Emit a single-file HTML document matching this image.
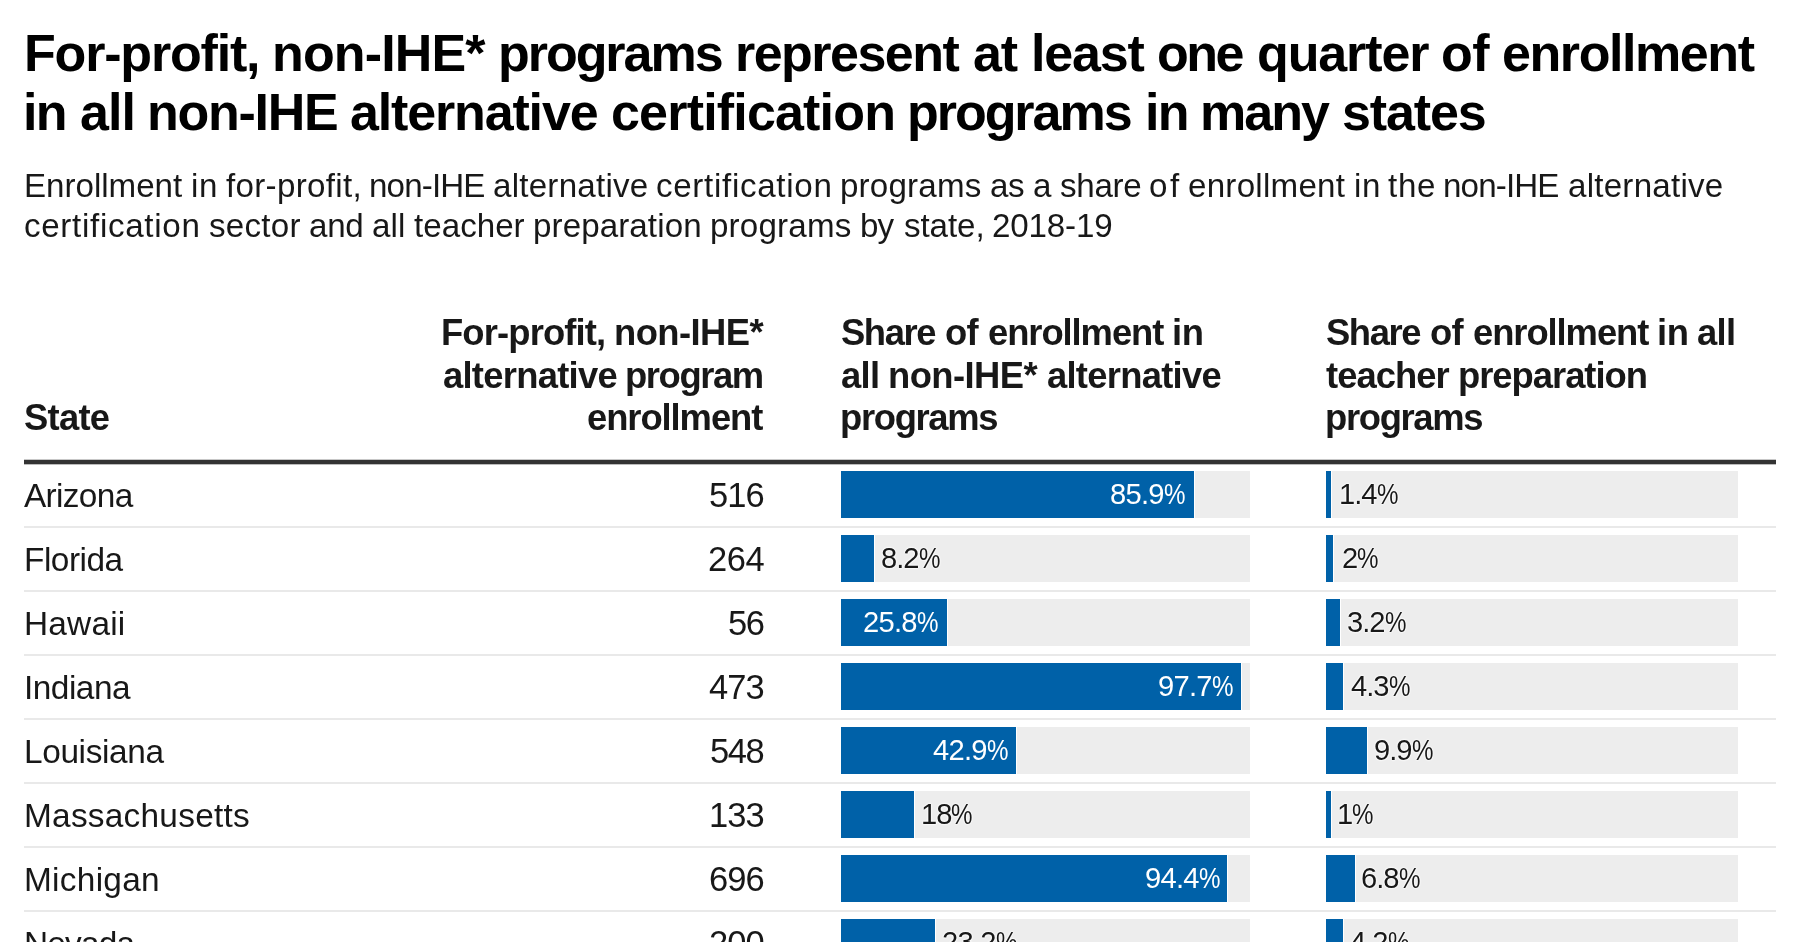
<!DOCTYPE html>
<html><head><meta charset="utf-8"><title>For-profit, non-IHE* programs</title>
<style>
html,body{margin:0;padding:0;background:#fff;}
body{width:1800px;height:942px;overflow:hidden;position:relative;font-family:"Liberation Sans",Arial,sans-serif;}
.t{position:absolute;white-space:nowrap;will-change:transform;}
.out{text-shadow:0 0 2px #fff,0 0 2px #fff,0 0 2px #fff;}
.bg{position:absolute;height:47px;background:#ededed;}
.bar{position:absolute;height:47px;background:#0061a8;box-shadow:1px 0 0 #fff;}
.sep{position:absolute;left:24px;width:1752px;height:2px;background:#e9e9e9;}
.rule{position:absolute;left:24px;width:1752px;top:460px;height:4px;background:#333;box-shadow:0 -1px 0 rgba(30,30,30,0.25),0 1px 0 rgba(30,30,30,0.3);}
.pc{display:inline-block;transform:scaleX(0.83);transform-origin:0 0;margin-right:-4.2px;}
</style></head><body>
<div class="rule"></div>
<div class="bg" style="left:841px;top:471px;width:409px"></div>
<div class="bar" style="left:841px;top:471px;width:352.8px"></div>
<div class="bg" style="left:1326px;top:471px;width:412px"></div>
<div class="bar" style="left:1326px;top:471px;width:5.0px"></div>
<div class="sep" style="top:526px"></div>
<div class="bg" style="left:841px;top:535px;width:409px"></div>
<div class="bar" style="left:841px;top:535px;width:32.9px"></div>
<div class="bg" style="left:1326px;top:535px;width:412px"></div>
<div class="bar" style="left:1326px;top:535px;width:7.2px"></div>
<div class="sep" style="top:590px"></div>
<div class="bg" style="left:841px;top:599px;width:409px"></div>
<div class="bar" style="left:841px;top:599px;width:106.0px"></div>
<div class="bg" style="left:1326px;top:599px;width:412px"></div>
<div class="bar" style="left:1326px;top:599px;width:14.4px"></div>
<div class="sep" style="top:654px"></div>
<div class="bg" style="left:841px;top:663px;width:409px"></div>
<div class="bar" style="left:841px;top:663px;width:400.0px"></div>
<div class="bg" style="left:1326px;top:663px;width:412px"></div>
<div class="bar" style="left:1326px;top:663px;width:16.7px"></div>
<div class="sep" style="top:718px"></div>
<div class="bg" style="left:841px;top:727px;width:409px"></div>
<div class="bar" style="left:841px;top:727px;width:174.9px"></div>
<div class="bg" style="left:1326px;top:727px;width:412px"></div>
<div class="bar" style="left:1326px;top:727px;width:40.5px"></div>
<div class="sep" style="top:782px"></div>
<div class="bg" style="left:841px;top:791px;width:409px"></div>
<div class="bar" style="left:841px;top:791px;width:73.1px"></div>
<div class="bg" style="left:1326px;top:791px;width:412px"></div>
<div class="bar" style="left:1326px;top:791px;width:5.0px"></div>
<div class="sep" style="top:846px"></div>
<div class="bg" style="left:841px;top:855px;width:409px"></div>
<div class="bar" style="left:841px;top:855px;width:385.9px"></div>
<div class="bg" style="left:1326px;top:855px;width:412px"></div>
<div class="bar" style="left:1326px;top:855px;width:28.9px"></div>
<div class="sep" style="top:910px"></div>
<div class="bg" style="left:841px;top:919px;width:409px"></div>
<div class="bar" style="left:841px;top:919px;width:94.4px"></div>
<div class="bg" style="left:1326px;top:919px;width:412px"></div>
<div class="bar" style="left:1326px;top:919px;width:16.9px"></div>
<div class="sep" style="top:974px"></div>
<div class="t" style="left:24.00px;top:26.97px;font-size:52.00px;line-height:52.00px;font-weight:700;letter-spacing:-1.186px;color:#000">For-profit,</div>
<div class="t" style="left:271.78px;top:26.97px;font-size:52.00px;line-height:52.00px;font-weight:700;letter-spacing:-0.854px;color:#000">non-IHE*</div>
<div class="t" style="left:497.62px;top:26.97px;font-size:52.00px;line-height:52.00px;font-weight:700;letter-spacing:-2.040px;color:#000">programs</div>
<div class="t" style="left:734.89px;top:26.97px;font-size:52.00px;line-height:52.00px;font-weight:700;letter-spacing:-1.525px;color:#000">represent</div>
<div class="t" style="left:972.89px;top:26.97px;font-size:52.00px;line-height:52.00px;font-weight:700;letter-spacing:-1.092px;color:#000">at</div>
<div class="t" style="left:1031.23px;top:26.97px;font-size:52.00px;line-height:52.00px;font-weight:700;letter-spacing:-1.206px;color:#000">least</div>
<div class="t" style="left:1157.14px;top:26.97px;font-size:52.00px;line-height:52.00px;font-weight:700;letter-spacing:-2.514px;color:#000">one</div>
<div class="t" style="left:1256.66px;top:26.97px;font-size:52.00px;line-height:52.00px;font-weight:700;letter-spacing:-1.109px;color:#000">quarter</div>
<div class="t" style="left:1440.89px;top:26.97px;font-size:52.00px;line-height:52.00px;font-weight:700;letter-spacing:-0.412px;color:#000">of</div>
<div class="t" style="left:1501.77px;top:26.97px;font-size:52.00px;line-height:52.00px;font-weight:700;letter-spacing:-1.429px;color:#000">enrollment</div>
<div class="t" style="left:23.00px;top:85.97px;font-size:52.00px;line-height:52.00px;font-weight:700;letter-spacing:-1.686px;color:#000">in</div>
<div class="t" style="left:79.83px;top:85.97px;font-size:52.00px;line-height:52.00px;font-weight:700;letter-spacing:-0.889px;color:#000">all</div>
<div class="t" style="left:147.11px;top:85.97px;font-size:52.00px;line-height:52.00px;font-weight:700;letter-spacing:-1.257px;color:#000">non-IHE</div>
<div class="t" style="left:350.34px;top:85.97px;font-size:52.00px;line-height:52.00px;font-weight:700;letter-spacing:-1.156px;color:#000">alternative</div>
<div class="t" style="left:610.98px;top:85.97px;font-size:52.00px;line-height:52.00px;font-weight:700;letter-spacing:-0.815px;color:#000">certification</div>
<div class="t" style="left:907.25px;top:85.97px;font-size:52.00px;line-height:52.00px;font-weight:700;letter-spacing:-2.040px;color:#000">programs</div>
<div class="t" style="left:1144.52px;top:85.97px;font-size:52.00px;line-height:52.00px;font-weight:700;letter-spacing:-1.686px;color:#000">in</div>
<div class="t" style="left:1200.36px;top:85.97px;font-size:52.00px;line-height:52.00px;font-weight:700;letter-spacing:-1.967px;color:#000">many</div>
<div class="t" style="left:1342.47px;top:85.97px;font-size:52.00px;line-height:52.00px;font-weight:700;letter-spacing:-1.116px;color:#000">states</div>
<div class="t" style="left:24.00px;top:168.53px;font-size:33.15px;line-height:33.15px;font-weight:400;letter-spacing:-0.022px;color:#181818">Enrollment</div>
<div class="t" style="left:191.05px;top:168.53px;font-size:33.15px;line-height:33.15px;font-weight:400;letter-spacing:0.696px;color:#181818">in</div>
<div class="t" style="left:225.64px;top:168.53px;font-size:33.15px;line-height:33.15px;font-weight:400;letter-spacing:0.305px;color:#181818">for-profit,</div>
<div class="t" style="left:368.81px;top:168.53px;font-size:33.15px;line-height:33.15px;font-weight:400;letter-spacing:-0.859px;color:#181818">non-IHE</div>
<div class="t" style="left:493.19px;top:168.53px;font-size:33.15px;line-height:33.15px;font-weight:400;letter-spacing:0.233px;color:#181818">alternative</div>
<div class="t" style="left:655.78px;top:168.53px;font-size:33.15px;line-height:33.15px;font-weight:400;letter-spacing:0.685px;color:#181818">certification</div>
<div class="t" style="left:839.70px;top:168.53px;font-size:33.15px;line-height:33.15px;font-weight:400;letter-spacing:0.185px;color:#181818">programs</div>
<div class="t" style="left:989.73px;top:168.53px;font-size:33.15px;line-height:33.15px;font-weight:400;letter-spacing:-0.405px;color:#181818">as</div>
<div class="t" style="left:1033.08px;top:168.53px;font-size:33.15px;line-height:33.15px;font-weight:400;letter-spacing:0.000px;color:#181818">a</div>
<div class="t" style="left:1060.33px;top:168.53px;font-size:33.15px;line-height:33.15px;font-weight:400;letter-spacing:-0.290px;color:#181818">share</div>
<div class="t" style="left:1149.44px;top:168.53px;font-size:33.15px;line-height:33.15px;font-weight:400;letter-spacing:2.469px;color:#181818">of</div>
<div class="t" style="left:1188.08px;top:168.53px;font-size:33.15px;line-height:33.15px;font-weight:400;letter-spacing:0.246px;color:#181818">enrollment</div>
<div class="t" style="left:1353.88px;top:168.53px;font-size:33.15px;line-height:33.15px;font-weight:400;letter-spacing:0.696px;color:#181818">in</div>
<div class="t" style="left:1388.45px;top:168.53px;font-size:33.15px;line-height:33.15px;font-weight:400;letter-spacing:0.728px;color:#181818">the</div>
<div class="t" style="left:1443.34px;top:168.53px;font-size:33.15px;line-height:33.15px;font-weight:400;letter-spacing:-0.859px;color:#181818">non-IHE</div>
<div class="t" style="left:1567.72px;top:168.53px;font-size:33.15px;line-height:33.15px;font-weight:400;letter-spacing:0.233px;color:#181818">alternative</div>
<div class="t" style="left:24.00px;top:208.53px;font-size:33.15px;line-height:33.15px;font-weight:400;letter-spacing:0.685px;color:#181818">certification</div>
<div class="t" style="left:208.92px;top:208.53px;font-size:33.15px;line-height:33.15px;font-weight:400;letter-spacing:0.247px;color:#181818">sector</div>
<div class="t" style="left:308.81px;top:208.53px;font-size:33.15px;line-height:33.15px;font-weight:400;letter-spacing:-0.267px;color:#181818">and</div>
<div class="t" style="left:372.05px;top:208.53px;font-size:33.15px;line-height:33.15px;font-weight:400;letter-spacing:0.146px;color:#181818">all</div>
<div class="t" style="left:414.42px;top:208.53px;font-size:33.15px;line-height:33.15px;font-weight:400;letter-spacing:0.019px;color:#181818">teacher</div>
<div class="t" style="left:533.48px;top:208.53px;font-size:33.15px;line-height:33.15px;font-weight:400;letter-spacing:0.092px;color:#181818">preparation</div>
<div class="t" style="left:710.16px;top:208.53px;font-size:33.15px;line-height:33.15px;font-weight:400;letter-spacing:0.185px;color:#181818">programs</div>
<div class="t" style="left:860.17px;top:208.53px;font-size:33.15px;line-height:33.15px;font-weight:400;letter-spacing:-1.000px;color:#181818">by</div>
<div class="t" style="left:903.52px;top:208.53px;font-size:33.15px;line-height:33.15px;font-weight:400;letter-spacing:-0.092px;color:#181818">state,</div>
<div class="t" style="left:991.64px;top:208.53px;font-size:33.15px;line-height:33.15px;font-weight:400;letter-spacing:-0.151px;color:#181818">2018-19</div>
<div class="t" style="left:24.00px;top:399.98px;font-size:36.40px;line-height:36.40px;font-weight:700;letter-spacing:-0.750px;color:#181818">State</div>
<div class="t" style="left:440.88px;top:314.88px;font-size:36.40px;line-height:36.40px;font-weight:700;letter-spacing:-0.860px;color:#181818">For-profit,</div>
<div class="t" style="left:613.97px;top:314.88px;font-size:36.40px;line-height:36.40px;font-weight:700;letter-spacing:-0.569px;color:#181818">non-IHE*</div>
<div class="t" style="left:442.58px;top:358.43px;font-size:36.40px;line-height:36.40px;font-weight:700;letter-spacing:-0.739px;color:#181818">alternative</div>
<div class="t" style="left:624.67px;top:358.43px;font-size:36.40px;line-height:36.40px;font-weight:700;letter-spacing:-1.410px;color:#181818">program</div>
<div class="t" style="left:587.47px;top:399.98px;font-size:36.40px;line-height:36.40px;font-weight:700;letter-spacing:-1.078px;color:#181818">enrollment</div>
<div class="t" style="left:841.00px;top:314.88px;font-size:36.40px;line-height:36.40px;font-weight:700;letter-spacing:-1.413px;color:#181818">Share</div>
<div class="t" style="left:944.94px;top:314.88px;font-size:36.40px;line-height:36.40px;font-weight:700;letter-spacing:-0.688px;color:#181818">of</div>
<div class="t" style="left:987.55px;top:314.88px;font-size:36.40px;line-height:36.40px;font-weight:700;letter-spacing:-1.078px;color:#181818">enrollment</div>
<div class="t" style="left:1172.11px;top:314.88px;font-size:36.40px;line-height:36.40px;font-weight:700;letter-spacing:-0.480px;color:#181818">in</div>
<div class="t" style="left:841.00px;top:358.43px;font-size:36.40px;line-height:36.40px;font-weight:700;letter-spacing:-0.622px;color:#181818">all</div>
<div class="t" style="left:887.77px;top:358.43px;font-size:36.40px;line-height:36.40px;font-weight:700;letter-spacing:-0.569px;color:#181818">non-IHE*</div>
<div class="t" style="left:1046.83px;top:358.43px;font-size:36.40px;line-height:36.40px;font-weight:700;letter-spacing:-0.739px;color:#181818">alternative</div>
<div class="t" style="left:840.00px;top:399.98px;font-size:36.40px;line-height:36.40px;font-weight:700;letter-spacing:-1.328px;color:#181818">programs</div>
<div class="t" style="left:1326.00px;top:314.88px;font-size:36.40px;line-height:36.40px;font-weight:700;letter-spacing:-1.413px;color:#181818">Share</div>
<div class="t" style="left:1429.94px;top:314.88px;font-size:36.40px;line-height:36.40px;font-weight:700;letter-spacing:-0.688px;color:#181818">of</div>
<div class="t" style="left:1472.55px;top:314.88px;font-size:36.40px;line-height:36.40px;font-weight:700;letter-spacing:-1.078px;color:#181818">enrollment</div>
<div class="t" style="left:1657.11px;top:314.88px;font-size:36.40px;line-height:36.40px;font-weight:700;letter-spacing:-0.480px;color:#181818">in</div>
<div class="t" style="left:1697.19px;top:314.88px;font-size:36.40px;line-height:36.40px;font-weight:700;letter-spacing:-0.622px;color:#181818">all</div>
<div class="t" style="left:1326.00px;top:358.43px;font-size:36.40px;line-height:36.40px;font-weight:700;letter-spacing:-0.978px;color:#181818">teacher</div>
<div class="t" style="left:1457.80px;top:358.43px;font-size:36.40px;line-height:36.40px;font-weight:700;letter-spacing:-1.020px;color:#181818">preparation</div>
<div class="t" style="left:1325.00px;top:399.98px;font-size:36.40px;line-height:36.40px;font-weight:700;letter-spacing:-1.328px;color:#181818">programs</div>
<div class="t" style="left:24.00px;top:478.72px;font-size:33.40px;line-height:33.40px;font-weight:400;letter-spacing:-0.667px;color:#181818">Arizona</div>
<div class="t" style="right:1036.12px;top:477.79px;font-size:34.50px;line-height:34.50px;font-weight:400;letter-spacing:-0.921px;color:#181818">516</div>
<div class="t in" style="right:614.95px;top:480.14px;font-size:29.13px;line-height:29.13px;font-weight:400;letter-spacing:-0.750px;color:#fff">85.9<span class="pc">%</span></div>
<div class="t out" style="left:1338.50px;top:480.14px;font-size:29.13px;line-height:29.13px;font-weight:400;letter-spacing:-1.000px;color:#181818">1.4<span class="pc">%</span></div>
<div class="t" style="left:24.00px;top:542.72px;font-size:33.40px;line-height:33.40px;font-weight:400;letter-spacing:-0.500px;color:#181818">Florida</div>
<div class="t" style="right:1035.62px;top:541.79px;font-size:34.50px;line-height:34.50px;font-weight:400;letter-spacing:-0.421px;color:#181818">264</div>
<div class="t out" style="left:880.90px;top:544.14px;font-size:29.13px;line-height:29.13px;font-weight:400;letter-spacing:-1.000px;color:#181818">8.2<span class="pc">%</span></div>
<div class="t out" style="left:1341.70px;top:544.14px;font-size:29.13px;line-height:29.13px;font-weight:400;letter-spacing:-1.000px;color:#181818">2<span class="pc">%</span></div>
<div class="t" style="left:24.00px;top:606.72px;font-size:33.40px;line-height:33.40px;font-weight:400;letter-spacing:0.200px;color:#181818">Hawaii</div>
<div class="t" style="right:1036.62px;top:605.79px;font-size:34.50px;line-height:34.50px;font-weight:400;letter-spacing:-1.421px;color:#181818">56</div>
<div class="t in" style="right:862.75px;top:608.14px;font-size:29.13px;line-height:29.13px;font-weight:400;letter-spacing:-0.750px;color:#fff">25.8<span class="pc">%</span></div>
<div class="t out" style="left:1346.90px;top:608.14px;font-size:29.13px;line-height:29.13px;font-weight:400;letter-spacing:-1.000px;color:#181818">3.2<span class="pc">%</span></div>
<div class="t" style="left:24.00px;top:670.72px;font-size:33.40px;line-height:33.40px;font-weight:400;letter-spacing:-0.500px;color:#181818">Indiana</div>
<div class="t" style="right:1036.12px;top:669.79px;font-size:34.50px;line-height:34.50px;font-weight:400;letter-spacing:-0.921px;color:#181818">473</div>
<div class="t in" style="right:567.75px;top:672.14px;font-size:29.13px;line-height:29.13px;font-weight:400;letter-spacing:-0.750px;color:#fff">97.7<span class="pc">%</span></div>
<div class="t out" style="left:1351.20px;top:672.14px;font-size:29.13px;line-height:29.13px;font-weight:400;letter-spacing:-1.000px;color:#181818">4.3<span class="pc">%</span></div>
<div class="t" style="left:24.00px;top:734.72px;font-size:33.40px;line-height:33.40px;font-weight:400;letter-spacing:-0.374px;color:#181818">Louisiana</div>
<div class="t" style="right:1036.62px;top:733.79px;font-size:34.50px;line-height:34.50px;font-weight:400;letter-spacing:-1.421px;color:#181818">548</div>
<div class="t in" style="right:792.85px;top:736.14px;font-size:29.13px;line-height:29.13px;font-weight:400;letter-spacing:-0.750px;color:#fff">42.9<span class="pc">%</span></div>
<div class="t out" style="left:1373.50px;top:736.14px;font-size:29.13px;line-height:29.13px;font-weight:400;letter-spacing:-1.000px;color:#181818">9.9<span class="pc">%</span></div>
<div class="t" style="left:24.00px;top:798.72px;font-size:33.40px;line-height:33.40px;font-weight:400;letter-spacing:0.250px;color:#181818">Massachusetts</div>
<div class="t" style="right:1036.12px;top:797.79px;font-size:34.50px;line-height:34.50px;font-weight:400;letter-spacing:-0.921px;color:#181818">133</div>
<div class="t out" style="left:921.10px;top:800.14px;font-size:29.13px;line-height:29.13px;font-weight:400;letter-spacing:-1.000px;color:#181818">18<span class="pc">%</span></div>
<div class="t out" style="left:1337.00px;top:800.14px;font-size:29.13px;line-height:29.13px;font-weight:400;letter-spacing:-1.000px;color:#181818">1<span class="pc">%</span></div>
<div class="t" style="left:24.00px;top:862.72px;font-size:33.40px;line-height:33.40px;font-weight:400;letter-spacing:0.286px;color:#181818">Michigan</div>
<div class="t" style="right:1036.12px;top:861.79px;font-size:34.50px;line-height:34.50px;font-weight:400;letter-spacing:-0.921px;color:#181818">696</div>
<div class="t in" style="right:580.85px;top:864.14px;font-size:29.13px;line-height:29.13px;font-weight:400;letter-spacing:-0.750px;color:#fff">94.4<span class="pc">%</span></div>
<div class="t out" style="left:1361.40px;top:864.14px;font-size:29.13px;line-height:29.13px;font-weight:400;letter-spacing:-1.000px;color:#181818">6.8<span class="pc">%</span></div>
<div class="t" style="left:24.00px;top:926.72px;font-size:33.40px;line-height:33.40px;font-weight:400;letter-spacing:-0.800px;color:#181818">Nevada</div>
<div class="t" style="right:1036.12px;top:925.79px;font-size:34.50px;line-height:34.50px;font-weight:400;letter-spacing:-0.921px;color:#181818">200</div>
<div class="t out" style="left:941.90px;top:928.14px;font-size:29.13px;line-height:29.13px;font-weight:400;letter-spacing:-0.750px;color:#181818">23.2<span class="pc">%</span></div>
<div class="t out" style="left:1350.40px;top:928.14px;font-size:29.13px;line-height:29.13px;font-weight:400;letter-spacing:-1.000px;color:#181818">4.2<span class="pc">%</span></div>
</body></html>
